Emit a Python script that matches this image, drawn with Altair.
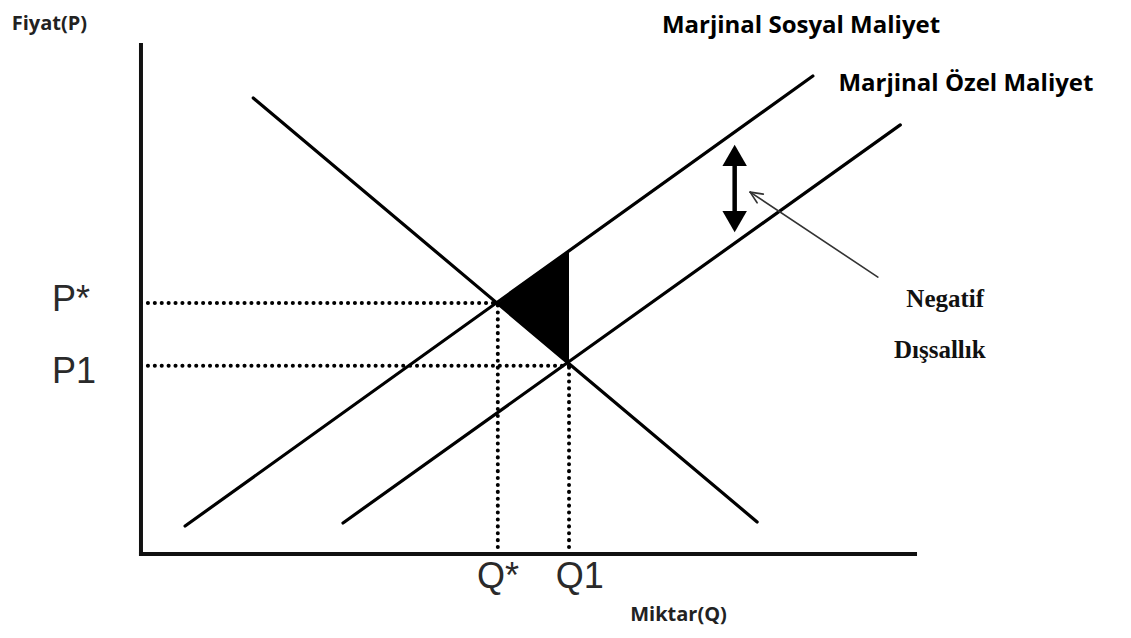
import altair as alt
import pandas as pd

# Plot coordinate domains (economic units; axis origin at 0,0, axis ends at 100)
XD = [-17.18, 126.87]
YD = [-14.93, 107.27]

# Axes
axis_x1 = [0, 0]
axis_y1 = [0, 0]
axis_x2 = [100, 0]
axis_y2 = [0, 100]

# Curves: Marjinal Sosyal Maliyet, Marjinal Özel Maliyet, Talep (demand)
curve_names = ["MSC", "MPC", "Demand"]
curve_x1 = [5.7, 26.1, 14.5]
curve_y1 = [5.5, 6.1, 89.6]
curve_x2 = [86.8, 98.1, 79.6]
curve_y2 = [93.9, 84.3, 6.3]

# Equilibria
q_star, p_star = 46.1, 49.3
q_one, p_one = 55.3, 37.0
msc_at_q1 = 59.6

# Dotted guide lines
dot_x1 = [0, 0, q_star, q_one]
dot_y1 = [p_star, p_one, 0, 0]
dot_x2 = [q_star, q_one, q_star, q_one]
dot_y2 = [p_star, p_one, p_star, p_one]

# Deadweight-loss triangle
tri_x = [q_star, q_one, q_one, q_star]
tri_y = [p_star, msc_at_q1, p_one + 0.3, p_star]
tri_order = [0, 1, 2, 3]

# Double arrow (externality gap)
darrow_x = 76.7
darrow_shaft = [77.0, 66.6]
darrow_heads_y = [78.3, 65.3]
darrow_shapes = ["triangle-up", "triangle-down"]

# Thin pointer arrow
ptr_x1 = [95.2, 78.7, 78.7]
ptr_y1 = [54.4, 71.1, 71.1]
ptr_x2 = [78.7, 79.6, 80.4]
ptr_y2 = [71.1, 69.0, 70.7]

# Labels
bold_labels = ["Fiyat(P)", "Miktar(Q)"]
bold_x = [-16.7, 63.2]
bold_y = [102.9, -13.2]
bold_sizes = [20, 20]

curve_labels = ["Marjinal Sosyal Maliyet", "Marjinal Özel Maliyet"]
curve_lab_x = [67.3, 90.1]
curve_lab_y = [102.4, 91.0]

pq_labels = ["P*", "P1", "Q*", "Q1"]
pq_x = [-11.5, -11.5, 43.4, 53.6]
pq_y = [47.8, 33.6, -6.7, -6.7]

neg_labels = ["Negatif", "Dışsallık"]
neg_x = [103.9, 103.2]
neg_y = [48.6, 38.6]

xs = alt.Scale(domain=XD, nice=False, zero=False)
ys = alt.Scale(domain=YD, nice=False, zero=False)


def seg_layer(x1, y1, x2, y2, **mark):
    df = pd.DataFrame({"x": x1, "y": y1, "x2": x2, "y2": y2})
    return alt.Chart(df).mark_rule(**mark).encode(
        x=alt.X("x:Q", scale=xs, axis=None),
        y=alt.Y("y:Q", scale=ys, axis=None),
        x2="x2:Q",
        y2="y2:Q",
    )


def text_layer(labels, x, y, **mark):
    df = pd.DataFrame({"t": labels, "x": x, "y": y})
    return alt.Chart(df).mark_text(baseline="alphabetic", **mark).encode(
        x=alt.X("x:Q", scale=xs, axis=None),
        y=alt.Y("y:Q", scale=ys, axis=None),
        text="t:N",
    )


axes = seg_layer(axis_x1, axis_y1, axis_x2, axis_y2, color="#111", strokeWidth=4, strokeCap="square")
curves = seg_layer(curve_x1, curve_y1, curve_x2, curve_y2, color="#000", strokeWidth=3.2, strokeCap="round")
dots = seg_layer(dot_x1, dot_y1, dot_x2, dot_y2, color="#000", strokeWidth=4,
                 strokeCap="round", strokeDash=[0.1, 6.8])

tri_df = pd.DataFrame({"x": tri_x, "y": tri_y, "o": tri_order})
triangle = alt.Chart(tri_df).mark_line(filled=True, color="#000", fill="#000", strokeWidth=1).encode(
    x=alt.X("x:Q", scale=xs, axis=None),
    y=alt.Y("y:Q", scale=ys, axis=None),
    order="o:Q",
)

shaft = seg_layer([darrow_x], [darrow_shaft[0]], [darrow_x], [darrow_shaft[1]], color="#000", strokeWidth=4.5)
heads_df = pd.DataFrame({"x": [darrow_x, darrow_x], "y": darrow_heads_y, "s": darrow_shapes})
heads = alt.Chart(heads_df).mark_point(filled=True, color="#000", size=600, opacity=1).encode(
    x=alt.X("x:Q", scale=xs, axis=None),
    y=alt.Y("y:Q", scale=ys, axis=None),
    shape=alt.Shape("s:N", scale=alt.Scale(domain=darrow_shapes, range=darrow_shapes), legend=None),
)

pointer = seg_layer(ptr_x1, ptr_y1, ptr_x2, ptr_y2, color="#333", strokeWidth=1.6, strokeCap="round")

bold_df = pd.DataFrame({"t": bold_labels, "x": bold_x, "y": bold_y, "s": bold_sizes})
t_bold = alt.Chart(bold_df).mark_text(baseline="alphabetic", align="left", font="Open Sans",
                                      fontWeight="bold", color="#222").encode(
    x=alt.X("x:Q", scale=xs, axis=None),
    y=alt.Y("y:Q", scale=ys, axis=None),
    text="t:N",
    size=alt.Size("s:Q", scale=None, legend=None),
)
t_curves = text_layer(curve_labels, curve_lab_x, curve_lab_y, align="left", font="Open Sans",
                      fontWeight="bold", fontSize=24, color="#000")
t_pq = text_layer(pq_labels, pq_x, pq_y, align="left", font="Liberation Sans", fontSize=36, color="#2a2a2a")
t_neg = text_layer(neg_labels, neg_x, neg_y, align="center", font="Liberation Serif", fontWeight="bold",
                   fontSize=25, color="#111")

chart = alt.layer(
    dots, axes, curves, triangle, shaft, heads, pointer, t_bold, t_curves, t_pq, t_neg
).properties(
    width=1115, height=622, padding=0, autosize=alt.AutoSizeParams(type="none"),
    background="white",
).configure_view(stroke=None)

chart.save("out.html", embed_options={"renderer": "svg", "actions": False})
